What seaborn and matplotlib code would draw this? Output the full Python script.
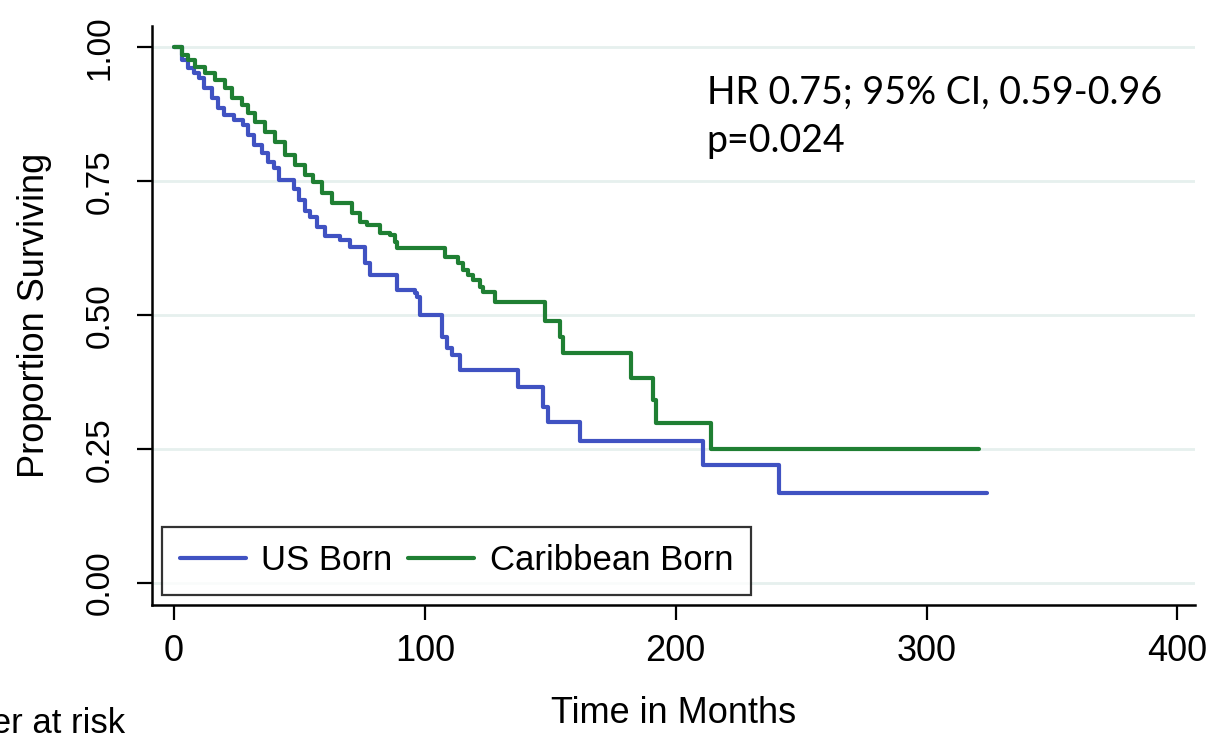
import pandas as pd
import matplotlib
matplotlib.use("Agg")
import matplotlib.pyplot as plt
import seaborn as sns

# Kaplan-Meier step data (time in months, survival after step)
us_time = [0, 3, 5.6, 8, 10, 12, 15, 17.5, 20, 24, 27.5, 29.5, 32, 35, 37.5, 40, 42,
           48, 50, 52, 54, 57, 60, 66, 70, 76, 78, 89, 96, 97, 98, 107, 109, 111,
           114, 137, 147, 149, 162, 211, 241, 324]
us_surv = [1.0, 0.976, 0.961, 0.952, 0.942, 0.924, 0.905, 0.886, 0.873, 0.864, 0.854,
           0.836, 0.817, 0.802, 0.785, 0.774, 0.752,
           0.735, 0.715, 0.695, 0.683, 0.665, 0.648, 0.640, 0.627, 0.597, 0.575,
           0.547, 0.541, 0.534, 0.500, 0.459, 0.438, 0.425,
           0.397, 0.366, 0.328, 0.300, 0.265, 0.220, 0.168, 0.168]

car_time = [0, 3, 5.6, 8.4, 12.4, 16.3, 20.3, 23, 27, 29.5, 32.3, 36.3, 40.2, 44.2,
            48.2, 52, 55.4, 59, 63, 71, 74, 77, 82, 86, 88, 89, 108, 113, 115, 117,
            119, 122, 123, 128, 148, 154, 155, 182, 191, 192, 214, 321]
car_surv = [1.0, 0.985, 0.976, 0.963, 0.952, 0.939, 0.924, 0.905, 0.892, 0.877, 0.860,
            0.841, 0.823, 0.799, 0.780, 0.761, 0.748, 0.728, 0.709, 0.690, 0.673,
            0.668, 0.653, 0.649, 0.636, 0.625, 0.608, 0.598, 0.585, 0.575, 0.565,
            0.553, 0.543, 0.524, 0.490, 0.459, 0.429, 0.382, 0.341, 0.298, 0.250,
            0.250]

groups = ["US Born", "Caribbean Born"]
colors = {"US Born": "#4052c2", "Caribbean Born": "#1f7f33"}

df = pd.concat([
    pd.DataFrame({"time": us_time, "surv": us_surv, "group": groups[0]}),
    pd.DataFrame({"time": car_time, "surv": car_surv, "group": groups[1]}),
])

sns.set_theme(style="ticks")
plt.rcParams["font.family"] = ["Liberation Sans", "DejaVu Sans"]
plt.rcParams["text.color"] = "black"
plt.rcParams["axes.labelcolor"] = "black"
plt.rcParams["xtick.color"] = "black"
plt.rcParams["ytick.color"] = "black"

fig = plt.figure(figsize=(12.23, 7.37), dpi=100)
ax = fig.add_axes([0.1243, 0.179, 0.8527, 0.786])

# pale horizontal grid
for yv in [0, 0.25, 0.5, 0.75, 1.0]:
    ax.axhline(yv, color="#e6f0ee", lw=2, zorder=0)

sns.lineplot(
    data=df, x="time", y="surv", hue="group", hue_order=groups,
    palette=colors, estimator=None, drawstyle="steps-post",
    lw=3, ax=ax
)

ax.set_xlim(-8.8, 407)
ax.set_ylim(-0.041, 1.04)
ax.set_xticks([0, 100, 200, 300, 400])
ax.set_yticks([0, 0.25, 0.5, 0.75, 1.0])
ax.set_yticklabels(["0.00", "0.25", "0.50", "0.75", "1.00"], rotation=90, va="center")
ax.tick_params(axis="both", length=11, width=1.6)
ax.tick_params(axis="x", labelsize=26, pad=10)
ax.tick_params(axis="y", labelsize=24, pad=15)

for s in ["top", "right"]:
    ax.spines[s].set_visible(False)
for s in ["left", "bottom"]:
    ax.spines[s].set_color("black")
    ax.spines[s].set_linewidth(1.8)

ax.set_xlabel("Time in Months", fontsize=26, labelpad=19)
ax.set_ylabel("Proportion Surviving", fontsize=26, labelpad=24)

handles, labels = ax.get_legend_handles_labels()
leg = ax.legend(handles, labels, ncol=2, loc="lower left", fontsize=25,
                frameon=True, fancybox=False, edgecolor="black",
                handlelength=1.9, handletextpad=0.45, columnspacing=0.45,
                borderaxespad=0.3, borderpad=0.5)
leg.get_frame().set_linewidth(1.6)

ax.text(0.532, 0.915, "HR 0.75; 95% CI, 0.59-0.96\np=0.024",
        transform=ax.transAxes, fontsize=27, family=["Lato", "DejaVu Sans"],
        ha="left", va="top", linespacing=1.4)

fig.text(125 / 1223, 1 - 707 / 737, "Number at risk", fontsize=25,
         ha="right", va="top")

fig.savefig("out.png", dpi=100, facecolor="white")
